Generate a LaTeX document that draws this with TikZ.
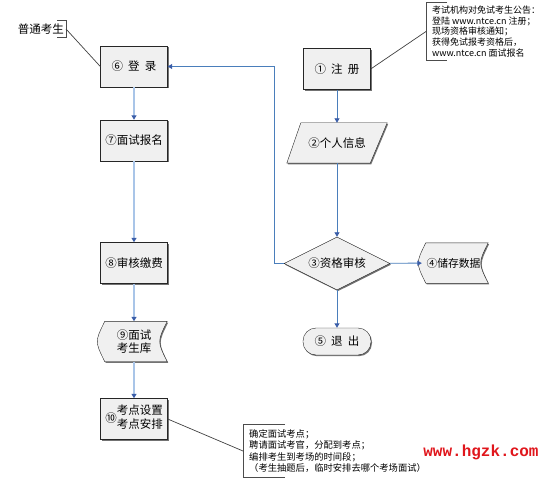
\documentclass[tikz,border=0pt]{standalone}
\usepackage{fontspec}
\setmainfont{Noto Sans CJK SC}
\newfontfamily\wmfont{Liberation Mono}
\usepackage{tikz}
\usepackage{xcolor}
\usetikzlibrary{arrows.meta,shapes.geometric,shadows,backgrounds,decorations.markings}

\definecolor{boxgray}{HTML}{F0F0F0}
\definecolor{lineblue}{HTML}{4A7EBB}
\definecolor{paleblue}{HTML}{A9C5E8}
\definecolor{tipblue}{HTML}{3A5DA8}
\definecolor{wmred}{HTML}{E0161C}

\newcommand{\gp}{\hspace{0.45em}}
% outline of the stored-data symbol round a node
\newcommand{\datashape}[1]{([xshift=4pt]#1.north west) -- (#1.north east)
  .. controls ([xshift=-10pt]#1.east) .. (#1.south east)
  -- ([xshift=4pt]#1.south west)
  .. controls ([xshift=-6pt]#1.west) .. cycle}
% outline of the input/output parallelogram round a node
\newcommand{\ioshape}[1]{([xshift=7pt]#1.north west) -- ([xshift=7pt]#1.north east)
  -- ([xshift=-10pt]#1.south east) -- ([xshift=-7pt]#1.south west) -- cycle}

\begin{document}
\begin{tikzpicture}[x=1pt,y=-1pt,
  every node/.style={font=\fontsize{11.5}{13.5}\selectfont},
  boxshadow/.style={drop shadow={shadow xshift=1pt,shadow yshift=-1.2pt,fill=black!55,opacity=1}},
  procbox/.style={rectangle,draw=black!85,fill=boxgray,minimum width=67pt,minimum height=41pt,inner sep=1pt,boxshadow},
  iobox/.style={rectangle,minimum width=86pt,minimum height=40pt,inner sep=0pt},
  checkbox/.style={diamond,aspect=2,draw=black!85,fill=boxgray,minimum width=106pt,minimum height=53pt,inner sep=0pt,boxshadow},
  endbox/.style={rectangle,rounded corners=13pt,draw=black!85,fill=boxgray,minimum width=68pt,minimum height=27pt,inner sep=1pt,boxshadow},
  databox/.style={rectangle,minimum width=66pt,minimum height=40pt,inner sep=0pt,align=center},
  outline/.style={draw=black!85,fill=boxgray},
  outshadow/.style={fill=black!55,transform canvas={xshift=1pt,yshift=-1.2pt}},
  notetext/.style={align=left,inner ysep=3pt,inner xsep=6pt,anchor=west},
  bracket/.style={draw=black!70,line width=0.9pt},
  callout/.style={draw=black!75,line width=0.7pt},
  tipend/.style={postaction={decorate},decoration={markings,
      mark=at position 1 with {\arrow{Triangle[length=4.5pt,width=5pt,color=tipblue]}}}},
  arrL/.style={draw=paleblue,line width=2.2pt,shorten >=3pt,tipend},
  arrR/.style={draw=lineblue,line width=0.9pt,shorten >=3pt,tipend}]
  \useasboundingbox (0,0) rectangle (554,481);

  % Left column: ordinary candidates
  \node[anchor=east,minimum height=16pt,inner xsep=2pt,inner ysep=0pt] (student) at (66,29) {普通考生};
  \node[procbox] (login) at (134,66.5) {⑥\gp 登\gp 录};
  \node[procbox] (apply) at (134,140.5) {⑦面试报名};
  \node[procbox] (audit) at (134,263) {⑧审核缴费};
  \node[databox] (pool) at (134,341.5) {⑨面试\\考生库};
  \node[procbox] (arrange) at (134,419) {⑩\begin{tabular}{@{}c@{}}考点设置\\考点安排\end{tabular}};

  % Right column: exempted candidates
  \node[procbox] (reg) at (337,69) {①\gp 注\gp 册};
  \node[iobox] (info) at (337,143) {②个人信息};
  \node[checkbox] (check) at (337,263.5) {③资格审核};
  \node[databox,font=\fontsize{10.8}{13}\selectfont,inner xsep=0pt] (store) at (455,263) {\hspace*{-3pt}④储存数据};
  \node[endbox] (quit) at (337,341.5) {⑤\gp 退\gp 出};

  % Notes
  \node[notetext,font=\fontsize{9}{10.8}\selectfont] (noteA) at (426,31.5)
    {考试机构对免试考生公告：\\登陆 www.ntce.cn 注册；\\现场资格审核通知；\\获得免试报考资格后，\\www.ntce.cn 面试报名};
  \node[notetext,font=\fontsize{9.3}{11.3}\selectfont,inner ysep=5pt] (noteB) at (243,451)
    {确定面试考点；\\聘请面试考官，分配到考点；\\编排考生到考场的时间段；\\（考生抽题后，临时安排去哪个考场面试）};
  \node[font=\wmfont\bfseries\fontsize{16}{18}\selectfont,text=wmred] (mark) at (481,452) {www.hgzk.com};

  % Drawn outlines behind the text
  \begin{pgfonlayer}{background}
    \fill[outshadow] \ioshape{info};
    \draw[outline] \ioshape{info};
    \fill[outshadow] \datashape{pool};
    \draw[outline] \datashape{pool};
    \fill[outshadow] \datashape{store};
    \draw[outline] \datashape{store};
  \end{pgfonlayer}

  % Brackets and callout lines
  \draw[bracket] ([xshift=-9pt]student.north east) -- (student.north east)
    -- (student.south east) -- ([xshift=-9pt]student.south east);
  \draw[bracket] ([xshift=21pt]noteA.north west) -- (noteA.north west)
    -- (noteA.south west) -- ([xshift=21pt]noteA.south west);
  \draw[bracket] ([xshift=42pt]noteB.north west) -- (noteB.north west)
    -- (noteB.south west) -- ([xshift=42pt]noteB.south west);
  \draw[callout] (student.east) -- (login.west);
  \draw[callout] (reg.east) -- (noteA.west);
  \draw[callout] (arrange.east) -- (noteB.west);

  % Flow arrows
  \draw[arrL] (login) -- (apply);
  \draw[arrL] (apply) -- (audit);
  \draw[arrL] (audit) -- (pool);
  \draw[arrL] (pool) -- (arrange);
  \draw[arrR] (reg) -- (info);
  \draw[arrR] (info) -- (check);
  \draw[arrR] (check) -- (store);
  \draw[arrR] (check) -- (quit);
  \draw[arrR] (check.west) -- ++(-9,0) |- (login.east);
\end{tikzpicture}
\end{document}
